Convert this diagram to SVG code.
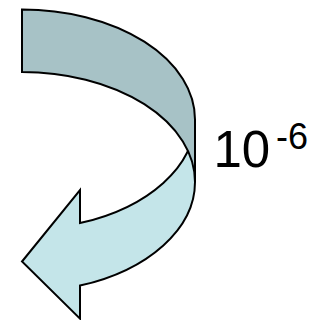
<svg xmlns="http://www.w3.org/2000/svg" width="325" height="320" viewBox="0 0 325 320">
  <style>
    .band { stroke: #000; stroke-width: 2; stroke-linejoin: miter; }
    .front { fill: #C4E5E9; }
    .back { fill: #A7C2C6; }
    .label { font-family: "Liberation Sans", Arial, sans-serif; fill: #000; }
  </style>
  <rect width="325" height="320" fill="#fff"/>
  <g id="arrow">
    <path id="arrow-front" class="band front" d="M195,119.5 A173,110 0 0 1 80,223.1 L80,190 L22,261.5 L80,318.6 L80,285.6 A173,110 0 0 0 195,182 Z"/>
    <path id="arrow-back" class="band back" d="M22,9.5 A173,110 0 0 1 195,119.5 L195,182 A173,110 0 0 0 22,72 Z"/>
  </g>
  <g id="label">
    <text class="label" x="213.5" y="166.5" font-size="51">10<tspan x="276" dy="-18" font-size="36">-6</tspan></text>
  </g>
</svg>
